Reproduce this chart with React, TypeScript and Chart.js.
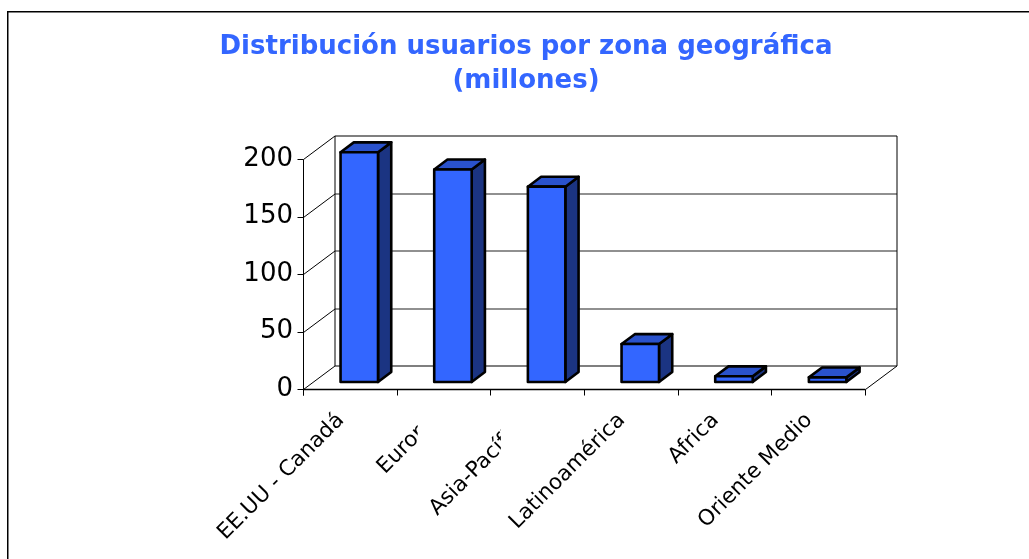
import React, { useEffect, useRef } from 'react';
import { Chart, registerables } from 'chart.js';

Chart.register(...registerables);

// ---- data ----
const categories = ['EE.UU - Canadá', 'Europa', 'Asia-Pacífico', 'Latinoamérica', 'Africa', 'Oriente Medio'];
const usuariosMillones = [200, 185, 170, 33, 5, 4];
const yMin = 0;
const yMax = 200;
const yStep = 50;
const titleLines = ['Distribución usuarios por zona geográfica', '(millones)'];

// ---- 3D look ----
const DEPTH_X = 31.5;
const DEPTH_Y = -23.5;
const BAR_FRONT = 0.3;
const BAR_BACK = 0.72;
const FRONT_COLOR = '#3366FF';
const SIDE_COLOR = '#1B3482';
const TOP_COLOR = '#2A52CC';
// Excel clipped two category labels; offsets from the category's left edge
const LABEL_CLIP: Record<number, number> = { 1: 21, 2: 10.5 };

const line = (ctx: CanvasRenderingContext2D, x1: number, y1: number, x2: number, y2: number) => {
  ctx.beginPath();
  ctx.moveTo(x1, y1);
  ctx.lineTo(x2, y2);
  ctx.stroke();
};

const excel3d = {
  id: 'excel3d',
  beforeDraw(chart: any) {
    const ctx: CanvasRenderingContext2D = chart.ctx;
    ctx.save();
    ctx.fillStyle = '#fff';
    ctx.fillRect(0, 0, chart.width, chart.height);
    ctx.strokeStyle = '#000';
    ctx.lineWidth = 1.5;
    ctx.beginPath();
    ctx.moveTo(7.75, chart.height);
    ctx.lineTo(7.75, 11.75);
    ctx.lineTo(chart.width, 11.75);
    ctx.stroke();
    ctx.restore();
  },
  beforeDatasetsDraw(chart: any) {
    const ctx: CanvasRenderingContext2D = chart.ctx;
    const { left, right } = chart.chartArea;
    const y = chart.scales.y;
    const x = chart.scales.x;
    const L = Math.round(left) + 0.5;
    const R = Math.round(right) + 0.5;
    ctx.save();
    ctx.lineWidth = 1;
    y.ticks.forEach((t: any) => {
      const py = Math.round(y.getPixelForValue(t.value)) + 0.5;
      const by = py + DEPTH_Y;
      const isEdge = t.value === yMin || t.value === yMax;
      ctx.strokeStyle = isEdge ? '#000' : '#222';
      ctx.lineWidth = isEdge ? 1.2 : 1.2;
      line(ctx, L + DEPTH_X, by, R + DEPTH_X, by);
      ctx.strokeStyle = '#000';
      ctx.lineWidth = 1;
      line(ctx, L, py, L + DEPTH_X, by);
      line(ctx, L - 6, py, L, py);
    });
    const T = Math.round(y.getPixelForValue(yMax)) + 0.5;
    const B = Math.round(y.getPixelForValue(yMin)) + 0.5;
    ctx.strokeStyle = '#000';
    ctx.lineWidth = 1;
    line(ctx, L + DEPTH_X, T + DEPTH_Y, L + DEPTH_X, B + DEPTH_Y);
    line(ctx, R + DEPTH_X, T + DEPTH_Y, R + DEPTH_X, B + DEPTH_Y);
    line(ctx, L, T, L, B + 6);
    ctx.lineWidth = 1.3;
    line(ctx, L, B, R, B);
    ctx.lineWidth = 1;
    line(ctx, R, B, R + DEPTH_X, B + DEPTH_Y);
    const n = categories.length;
    for (let i = 0; i <= n; i++) {
      const px = Math.round(x.left + (x.width * i) / n) + 0.5;
      line(ctx, px, B, px, B + 6);
    }
    ctx.restore();
  },
  afterDatasetsDraw(chart: any) {
    const ctx: CanvasRenderingContext2D = chart.ctx;
    const meta = chart.getDatasetMeta(0);
    const f1x = BAR_FRONT * DEPTH_X;
    const f1y = BAR_FRONT * DEPTH_Y;
    const dx = (BAR_BACK - BAR_FRONT) * DEPTH_X;
    const dy = (BAR_BACK - BAR_FRONT) * DEPTH_Y;
    ctx.save();
    ctx.lineWidth = 2.6;
    ctx.lineJoin = 'round';
    ctx.strokeStyle = '#000';
    meta.data.forEach((el: any) => {
      const w = el.width;
      const x0 = el.x - w / 2 + f1x;
      const x1 = x0 + w;
      const yt = el.y + f1y;
      const yb = el.base + f1y;
      ctx.beginPath();
      ctx.moveTo(x1, yt);
      ctx.lineTo(x1 + dx, yt + dy);
      ctx.lineTo(x1 + dx, yb + dy);
      ctx.lineTo(x1, yb);
      ctx.closePath();
      ctx.fillStyle = SIDE_COLOR;
      ctx.fill();
      ctx.stroke();
      ctx.beginPath();
      ctx.moveTo(x0, yt);
      ctx.lineTo(x0 + dx, yt + dy);
      ctx.lineTo(x1 + dx, yt + dy);
      ctx.lineTo(x1, yt);
      ctx.closePath();
      ctx.fillStyle = TOP_COLOR;
      ctx.fill();
      ctx.stroke();
      ctx.beginPath();
      ctx.rect(x0, yt, w, yb - yt);
      ctx.fillStyle = FRONT_COLOR;
      ctx.fill();
      ctx.stroke();
    });
    ctx.restore();
  },
  afterDraw(chart: any) {
    const ctx: CanvasRenderingContext2D = chart.ctx;
    const x = chart.scales.x;
    const bottom = chart.chartArea.bottom;
    const n = categories.length;
    const cw = x.width / n;
    ctx.save();
    ctx.font = '21.5px "DejaVu Sans"';
    ctx.fillStyle = '#000';
    ctx.textAlign = 'right';
    ctx.textBaseline = 'alphabetic';
    categories.forEach((label, i) => {
      const cx = x.getPixelForValue(i);
      ctx.save();
      if (LABEL_CLIP[i] !== undefined) {
        ctx.beginPath();
        ctx.rect(0, 0, x.left + cw * i + LABEL_CLIP[i], chart.height);
        ctx.clip();
      }
      ctx.translate(cx - 5, bottom + 32);
      ctx.rotate(-Math.PI / 4);
      ctx.fillText(label, 0, 0);
      ctx.restore();
    });
    ctx.restore();
  },
};

export default function App() {
  const canvasRef = useRef<HTMLCanvasElement | null>(null);

  useEffect(() => {
    if (!canvasRef.current) return;
    const chart = new Chart(canvasRef.current, {
      type: 'bar',
      data: {
        labels: categories,
        datasets: [
          {
            label: 'Usuarios (millones)',
            data: usuariosMillones,
            backgroundColor: 'rgba(0,0,0,0)',
            borderWidth: 0,
            categoryPercentage: 1,
            barPercentage: 0.4,
          },
        ],
      },
      options: {
        animation: false,
        responsive: true,
        maintainAspectRatio: false,
        layout: { padding: { left: 187, right: 164, top: 0, bottom: 0 } },
        plugins: {
          legend: { display: false },
          tooltip: { enabled: false },
          title: {
            display: true,
            text: titleLines,
            color: '#3366FF',
            font: { family: '"DejaVu Sans"', size: 26, weight: 'bold', lineHeight: 1.33 },
            padding: { top: 29.5, bottom: 60.6 },
          },
        },
        scales: {
          x: {
            type: 'category',
            ticks: { display: false },
            grid: { display: false, drawTicks: false },
            border: { display: false },
            afterFit: (s: any) => {
              s.height = 170;
            },
          },
          y: {
            min: yMin,
            max: yMax,
            ticks: {
              stepSize: yStep,
              color: '#000',
              padding: 10,
              font: { family: '"DejaVu Sans"', size: 26 },
            },
            grid: { display: false, drawTicks: false },
            border: { display: false },
            afterFit: (s: any) => {
              s.width = 116;
            },
          },
        },
      },
      plugins: [excel3d],
    });
    return () => chart.destroy();
  }, []);

  return (
    <div style={{ position: 'fixed', left: 0, top: 0, width: 1029, height: 559, background: '#fff' }}>
      <canvas ref={canvasRef} />
    </div>
  );
}
